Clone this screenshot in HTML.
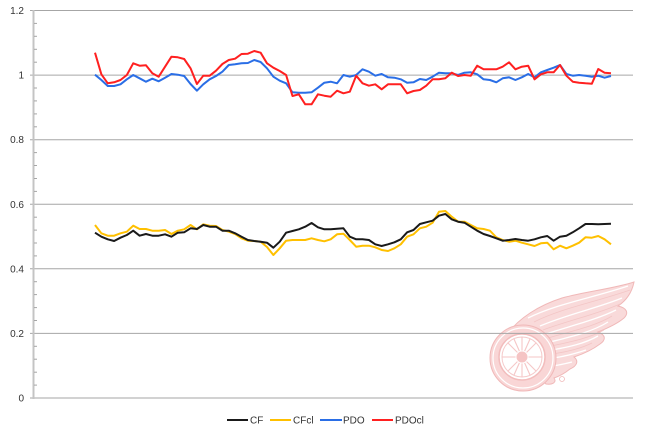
<!DOCTYPE html>
<html><head><meta charset="utf-8"><style>
html,body{margin:0;padding:0;background:#fff;}
svg{display:block;}
text{font-family:"Liberation Sans",sans-serif;font-size:10px;fill:#333;}
</style></head><body>
<svg width="645" height="436" viewBox="0 0 645 436" xmlns="http://www.w3.org/2000/svg">
<rect width="645" height="436" fill="#fff"/>
<!-- logo -->
<g>
  <path d="M506,336 C518,318 540,305 562,298 C588,291 612,289 634,282 C632,292 627,300 618,306 C627,308 629,313 624,318 C617,324 608,328 598,332 C606,335 606,340 600,344 C592,350 583,354 574,357 C579,361 577,366 570,369 C565,373 560,376 554,378 C557,382 553,385 546,384 L540,378 Z" fill="#f9dada" stroke="#f0b8b8" stroke-width="1"/>
  <g fill="none" stroke="#fff" stroke-width="1.3">
    <path d="M528,318 C556,304 592,298 628,286"/>
    <path d="M540,326 C568,314 598,308 622,298"/>
    <path d="M546,334 C570,326 596,320 616,310"/>
    <path d="M550,342 C570,337 592,332 608,322"/>
    <path d="M552,350 C568,347 584,344 598,336"/>
    <path d="M552,358 C562,357 574,354 586,350"/>
    <path d="M550,366 C556,366 564,364 572,362"/>
  </g>
  <g fill="none" stroke="#f3c6c6" stroke-width="0.8">
    <path d="M534,322 C562,308 596,302 630,290"/>
    <path d="M543,330 C570,320 598,314 620,304"/>
    <path d="M548,338 C572,331 596,326 612,316"/>
    <path d="M551,346 C570,342 590,338 604,330"/>
    <path d="M552,354 C566,352 580,349 592,343"/>
  </g>
  <circle cx="523" cy="358" r="33" fill="#f9d6d6" stroke="#f0b8b8" stroke-width="1"/>
  <circle cx="523" cy="358" r="30" fill="none" stroke="#fff" stroke-width="1.2"/>
  <circle cx="522" cy="357" r="23" fill="#fff" stroke="#f2bdbd" stroke-width="1.5"/>
  <circle cx="522" cy="357" r="20" fill="none" stroke="#f5caca" stroke-width="1"/>
  <g stroke="#f5c6c6" stroke-width="1.1">
    <line x1="522" y1="337" x2="522" y2="377"/>
    <line x1="502" y1="357" x2="542" y2="357"/>
    <line x1="508" y1="343" x2="536" y2="371"/>
    <line x1="536" y1="343" x2="508" y2="371"/>
    <line x1="514" y1="339" x2="530" y2="375"/>
    <line x1="530" y1="339" x2="514" y2="375"/>
  </g>
  <circle cx="522" cy="357" r="6" fill="#f5c4c4" stroke="#fff" stroke-width="1"/>
  <circle cx="562" cy="379" r="2.5" fill="none" stroke="#f0b8b8" stroke-width="0.8"/>
</g>
<!-- gridlines -->
<g stroke="#a6a6a6" stroke-width="1">
  <line x1="30" y1="10.5" x2="633" y2="10.5"/>
  <line x1="30" y1="75.1" x2="633" y2="75.1"/>
  <line x1="30" y1="139.7" x2="633" y2="139.7"/>
  <line x1="30" y1="204.3" x2="633" y2="204.3"/>
  <line x1="30" y1="268.8" x2="633" y2="268.8"/>
  <line x1="30" y1="333.4" x2="633" y2="333.4"/>
  <line x1="30" y1="398" x2="633" y2="398"/>
</g>
<line x1="33.5" y1="10" x2="33.5" y2="399" stroke="#c4c4c4" stroke-width="2"/>
<g stroke="#a6a6a6" stroke-width="1">
  <line x1="34" y1="23.4" x2="37" y2="23.4"/><line x1="34" y1="36.3" x2="37" y2="36.3"/><line x1="34" y1="49.3" x2="37" y2="49.3"/><line x1="34" y1="62.2" x2="37" y2="62.2"/>
  <line x1="34" y1="88" x2="37" y2="88"/><line x1="34" y1="100.9" x2="37" y2="100.9"/><line x1="34" y1="113.9" x2="37" y2="113.9"/><line x1="34" y1="126.8" x2="37" y2="126.8"/>
  <line x1="34" y1="152.6" x2="37" y2="152.6"/><line x1="34" y1="165.5" x2="37" y2="165.5"/><line x1="34" y1="178.5" x2="37" y2="178.5"/><line x1="34" y1="191.4" x2="37" y2="191.4"/>
  <line x1="34" y1="217.2" x2="37" y2="217.2"/><line x1="34" y1="230.1" x2="37" y2="230.1"/><line x1="34" y1="243" x2="37" y2="243"/><line x1="34" y1="255.9" x2="37" y2="255.9"/>
  <line x1="34" y1="281.7" x2="37" y2="281.7"/><line x1="34" y1="294.6" x2="37" y2="294.6"/><line x1="34" y1="307.6" x2="37" y2="307.6"/><line x1="34" y1="320.5" x2="37" y2="320.5"/>
  <line x1="34" y1="346.3" x2="37" y2="346.3"/><line x1="34" y1="359.2" x2="37" y2="359.2"/><line x1="34" y1="372.2" x2="37" y2="372.2"/><line x1="34" y1="385.1" x2="37" y2="385.1"/>
</g>
<!-- y labels -->
<g text-anchor="end">
  <text x="24" y="14">1.2</text>
  <text x="24" y="78.6">1</text>
  <text x="24" y="143.2">0.8</text>
  <text x="24" y="207.8">0.6</text>
  <text x="24" y="272.3">0.4</text>
  <text x="24" y="336.9">0.2</text>
  <text x="24" y="401.5">0</text>
</g>
<!-- series -->
<g transform="translate(95,0) scale(6.37,1)" fill="none" stroke-width="2" stroke-linejoin="round">
<polyline vector-effect="non-scaling-stroke" stroke="#ffc000" points="0,225 1,233.3 2,235.7 3,235.7 4,233.3 5,231.7 6,225.7 7,229 8,229 9,230.7 10,230.7 11,230 12,234 13,230.7 14,229.3 15,225 16,229.3 17,224.3 18,225.7 19,226 20,230 21,231.7 22,234 23,238.3 24,240.7 25,241 26,241.7 27,247 28,255 29,248.3 30,240.7 31,240 32,240 33,240 34,238.3 35,240 36,241.3 37,239.3 38,234.3 39,233.7 40,240 41,246.7 42,245.7 43,245.7 44,247.3 45,250 46,251 47,248.3 48,244.3 49,236.7 50,234.3 51,228.3 52,226.7 53,222.7 54,211.7 55,211 56,216.7 57,221.7 58,221.7 59,225 60,228.3 61,229 62,230.7 63,237.3 64,240 65,241.7 66,240.7 67,242.7 68,244.3 69,246 70,243.3 71,242.7 72,249.3 73,245.7 74,248.3 75,245.7 76,242.7 77,237.3 78,237.7 79,236 80,239.3 81,244.3"/>
<polyline vector-effect="non-scaling-stroke" stroke="#1a1a1a" points="0,232.7 1,236.7 2,239.3 3,241 4,237.7 5,235 6,230.7 7,235.7 8,234 9,235.7 10,235.7 11,234.3 12,236.7 13,232.7 14,232.3 15,228.3 16,229 17,225 18,226.7 19,226.7 20,230.7 21,230.7 22,233.3 23,236.7 24,240 25,241 26,241.7 27,242.7 28,247.7 29,241.7 30,232.7 31,231 32,229.3 33,226.7 34,223 35,227.3 36,229.3 37,229.3 38,228.7 39,228.3 40,236.7 41,239.3 42,239.3 43,240 44,244.3 45,246 46,244.3 47,242.3 48,239.3 49,232.3 50,230 51,224 52,222.3 53,220.7 54,215.7 55,214 56,219.3 57,221.7 58,222.7 59,226.7 60,230.7 61,234 62,236 63,238.3 64,240.7 65,240 66,239 67,240 68,240.7 69,239.3 70,237.3 71,236 72,240.7 73,236.7 74,235.7 75,232.3 76,228.3 77,224 78,224 79,224.3 80,224 81,223.7"/>
<polyline vector-effect="non-scaling-stroke" stroke="#2a6ee6" points="0,74.7 1,80 2,86 3,86 4,84.3 5,79.3 6,75 7,78.3 8,81.7 9,78.7 10,81.3 11,77.7 12,74 13,74.7 14,76 15,84 16,90.7 17,84.3 18,79.3 19,76 20,71.7 21,65 22,64.3 23,63.3 24,63 25,60 26,62 27,68.3 28,76.7 29,80.7 30,83.3 31,92.3 32,92.7 33,92.7 34,92.3 35,87.7 36,82.7 37,81.7 38,83.3 39,75 40,76.7 41,75 42,69.3 43,71.7 44,75.7 45,74 46,77.3 47,77.7 48,79.3 49,82.7 50,82.3 51,79 52,80 53,76.7 54,72.7 55,73.3 56,73.3 57,75 58,72.7 59,72.3 60,74.3 61,79.3 62,80 63,82.3 64,78.3 65,77.3 66,80 67,77.3 68,74 69,77.3 70,72.3 71,70 72,67.7 73,65 74,74 75,75.7 76,75 77,75.7 78,76.7 79,75.7 80,77.7 81,76"/>
<polyline vector-effect="non-scaling-stroke" stroke="#ff2020" points="0,52.7 1,74.3 2,83.3 3,82.3 4,80 5,75 6,63.3 7,65.7 8,65.3 9,73.3 10,76.7 11,66.7 12,56.7 13,57.3 14,59 15,68.3 16,84 17,75.7 18,75.7 19,70.7 20,64 21,60 22,58.7 23,54 24,53.7 25,51 26,52.7 27,63.3 28,67.7 29,71 30,75 31,96 32,94.3 33,104.3 34,104.3 35,94.3 36,95.7 37,96.7 38,90.7 39,93.3 40,91.7 41,75.7 42,83.3 43,85.7 44,84.3 45,89.3 46,84.3 47,84.3 48,84.3 49,93.3 50,91 51,90 52,85.7 53,79.3 54,79.3 55,78.3 56,72.7 57,76 58,75 59,75.7 60,65.7 61,69.3 62,69.3 63,69.3 64,66.7 65,62.3 66,69.3 67,66.7 68,65.7 69,79.3 70,74.3 71,72.3 72,72.3 73,65 74,75.7 75,81.7 76,82.7 77,83.3 78,83.7 79,69 80,72.7 81,73.3"/>
</g>
<!-- legend -->
<g stroke-width="2">
  <line x1="227" y1="420" x2="248" y2="420" stroke="#1a1a1a"/>
  <line x1="270" y1="420" x2="291" y2="420" stroke="#ffc000"/>
  <line x1="320" y1="420" x2="342" y2="420" stroke="#2a6ee6"/>
  <line x1="372" y1="420" x2="393" y2="420" stroke="#ff2020"/>
</g>
<text x="250" y="423.5">CF</text>
<text x="293" y="423.5">CFcl</text>
<text x="343" y="423.5">PDO</text>
<text x="395" y="423.5">PDOcl</text>
</svg>
</body></html>
